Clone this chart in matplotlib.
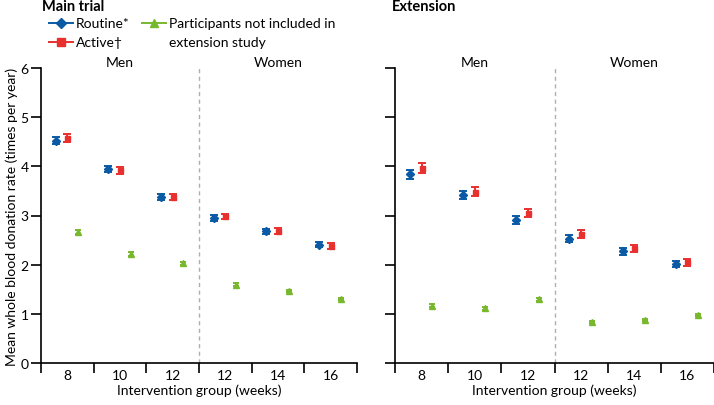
import numpy as np
import matplotlib
matplotlib.use('Agg')
import matplotlib.pyplot as plt
from matplotlib.lines import Line2D

plt.rcParams['font.family'] = ['Lato', 'DejaVu Sans']

# categories: men 8/10/12 weeks, women 12/14/16 weeks
groups = ['8', '10', '12', '12', '14', '16']

# main trial
main_routine = [4.52, 3.95, 3.38, 2.95, 2.68, 2.41]
main_routine_err = [0.07, 0.06, 0.06, 0.06, 0.05, 0.06]
main_active = [4.57, 3.92, 3.37, 2.98, 2.68, 2.38]
main_active_err = [0.08, 0.07, 0.06, 0.06, 0.06, 0.06]
main_other = [2.67, 2.22, 2.03, 1.59, 1.47, 1.31]
main_other_err = [0.04, 0.04, 0.03, 0.03, 0.02, 0.02]

# extension study
ext_routine = [3.84, 3.41, 2.90, 2.53, 2.27, 2.01]
ext_routine_err = [0.09, 0.08, 0.08, 0.07, 0.07, 0.06]
ext_active = [3.96, 3.48, 3.05, 2.62, 2.33, 2.05]
ext_active_err = [0.10, 0.09, 0.09, 0.08, 0.07, 0.07]
ext_other = [1.16, 1.11, 1.30, 0.84, 0.88, 0.98]
ext_other_err = [0.03, 0.03, 0.03, 0.02, 0.02, 0.02]

blue = '#0b5aa5'
red = '#e8302f'
green = '#77b82d'
fs = 10

fig = plt.figure(figsize=(7.14, 4.06), dpi=100)
ax1 = fig.add_axes([41/714, 42/406, 316/714, 295/406])
ax2 = fig.add_axes([395/714, 42/406, 319/714, 295/406])

centers = np.arange(6) + 0.5

def draw_panel(ax, r, re, a, ae, o, oe, show_labels):
    ax.errorbar(centers - 0.22, r, yerr=re, fmt='D', color=blue, ms=4,
                capsize=2.8, elinewidth=1.4, capthick=1.4)
    ax.errorbar(centers, a, yerr=ae, fmt='s', color=red, ms=3.6,
                capsize=2.8, elinewidth=1.4, capthick=1.4)
    ax.errorbar(centers + 0.2, o, yerr=oe, fmt='^', color=green, ms=4,
                capsize=2.5, elinewidth=1.4, capthick=1.4)
    ax.axvline(3, ymin=0, ymax=1, color='#a9b1b8', ls=(0, (3, 2.5)), lw=1)
    ax.set_xlim(0, 6)
    ax.set_ylim(0, 6)
    ax.spines['top'].set_visible(False)
    ax.spines['right'].set_visible(False)
    ax.spines['left'].set_linewidth(1.2)
    ax.spines['bottom'].set_linewidth(1.2)
    ax.set_xticks(np.arange(7))
    ax.set_xticklabels([])
    ax.set_xticks(centers, minor=True)
    ax.set_xticklabels(groups, minor=True, fontsize=fs)
    ax.tick_params(axis='x', which='major', length=7, width=1.2, direction='out')
    ax.tick_params(axis='x', which='minor', length=0, pad=4)
    ax.set_yticks(range(7))
    ax.tick_params(axis='y', length=7, width=1.2, labelsize=fs, pad=2)
    if not show_labels:
        ax.set_yticklabels([])
    ax.text(1.5, 6.12, 'Men', ha='center', va='center', fontsize=fs)
    ax.text(4.5, 6.12, 'Women', ha='center', va='center', fontsize=fs)
    ax.set_xlabel('Intervention group (weeks)', fontsize=fs, labelpad=2)

draw_panel(ax1, main_routine, main_routine_err, main_active, main_active_err,
           main_other, main_other_err, True)
draw_panel(ax2, ext_routine, ext_routine_err, ext_active, ext_active_err,
           ext_other, ext_other_err, False)
ax1.set_ylabel('Mean whole blood donation rate (times per year)', fontsize=fs, labelpad=2)

fig.text(42/714, 1 - 7/406, 'Main trial', fontsize=10.5, fontweight='bold', va='center')
fig.text(392/714, 1 - 7/406, 'Extension', fontsize=10.5, fontweight='bold', va='center')

# legend drawn by hand in pixel positions of the figure
def px(x, y):
    return x / 714, 1 - y / 406

legend_items = [
    (49, 24, blue, 'D', 'Routine*'),
    (49, 43, red, 's', 'Active\u2020'),
    (142, 24, green, '^', 'Participants not included in'),
]
for x0, y0, col, mk, lab in legend_items:
    xa, ya = px(x0, y0)
    xb, _ = px(x0 + 24, y0)
    xm, _ = px(x0 + 12, y0)
    fig.add_artist(Line2D([xa, xb], [ya, ya], color=col, lw=1.4, transform=fig.transFigure))
    fig.add_artist(Line2D([xm], [ya], color=col, marker=mk, ms=5.5, transform=fig.transFigure))
    fig.text(*px(x0 + 27, y0), lab, fontsize=fs, va='center')
fig.text(*px(169, 43), 'extension study', fontsize=fs, va='center')

fig.savefig('out.png', dpi=100)
